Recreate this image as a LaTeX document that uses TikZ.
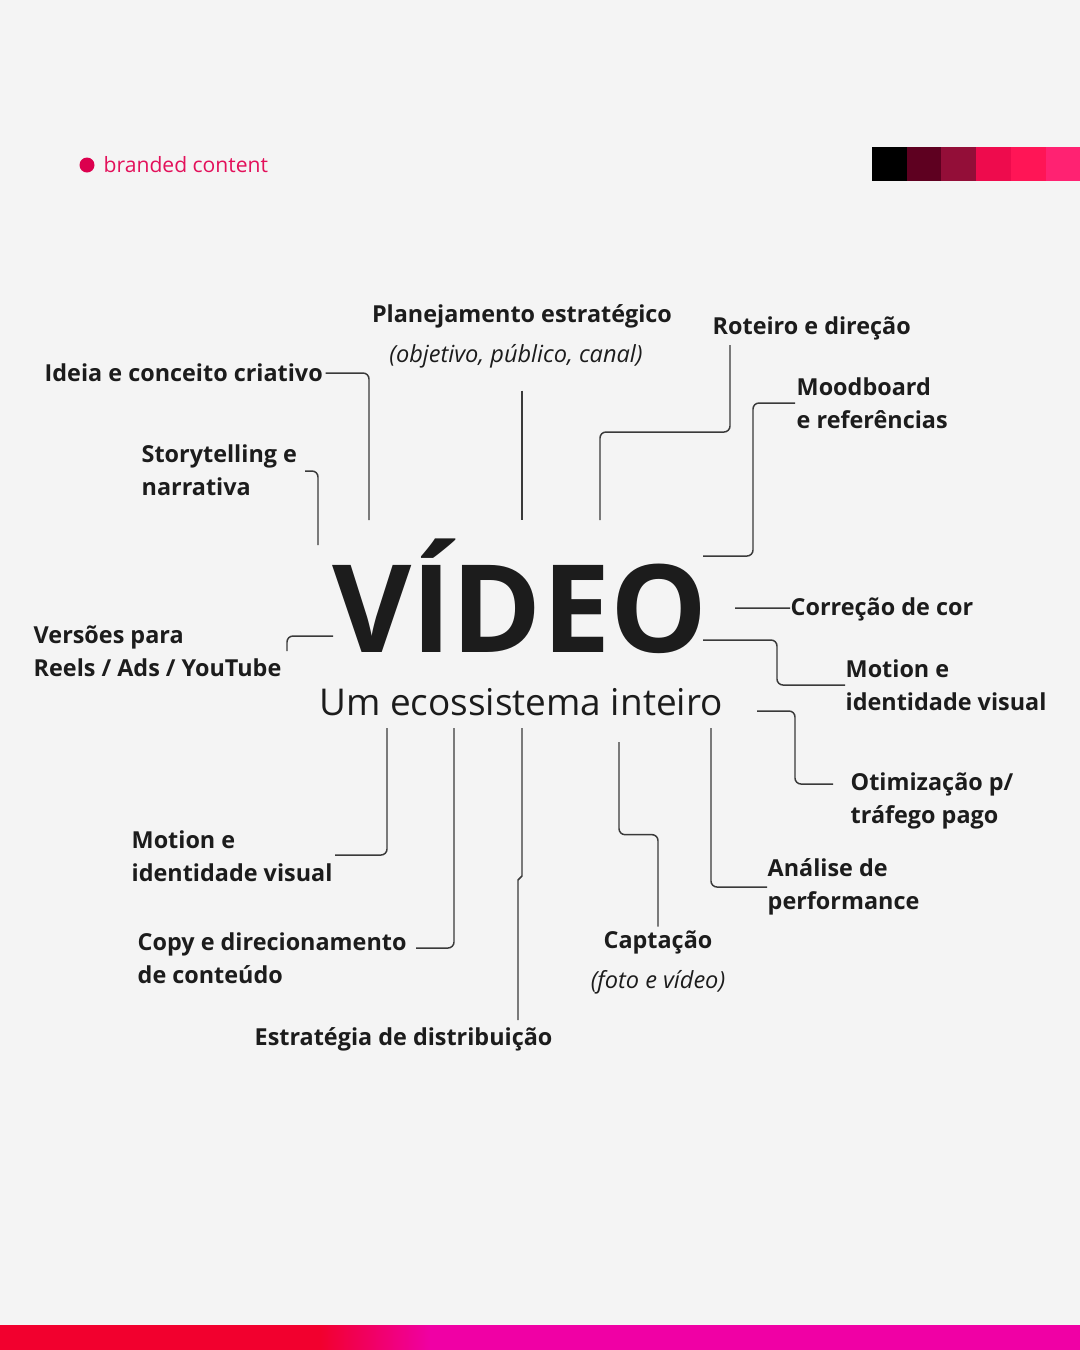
\documentclass[tikz,border=0pt]{standalone}
\usepackage{fontspec}
\setmainfont{Open Sans}
\usetikzlibrary{positioning}

\definecolor{bg}{HTML}{F4F4F4}
\definecolor{ink}{HTML}{1C1C1C}
\definecolor{wirecol}{HTML}{3A3A3A}
\definecolor{brand}{HTML}{E3105A}
\definecolor{branddot}{HTML}{DC004E}
\definecolor{barRed}{HTML}{F2002E}
\definecolor{barPink}{HTML}{F000A5}
\definecolor{pal0}{HTML}{000000}
\definecolor{pal1}{HTML}{5E0020}
\definecolor{pal2}{HTML}{930E38}
\definecolor{pal3}{HTML}{EE0B4D}
\definecolor{pal4}{HTML}{FF1556}
\definecolor{pal5}{HTML}{FF2272}

\tikzset{
  lbl/.style={inner sep=0pt, anchor=west, align=left, text=ink,
    font=\fontsize{6.65}{9.5}\selectfont\bfseries},
  note/.style={inner sep=0pt, text=ink, font=\fontsize{6.7}{9.5}\selectfont\itshape},
  wire/.style={draw=wirecol, line width=0.42pt, rounded corners=1.7pt},
}

\begin{document}
\begin{tikzpicture}[x=0.01cm, y=-0.01cm, node distance=4mm, on grid]
	\useasboundingbox (0,0) rectangle (1080,1350);
	\fill[bg] (0,0) rectangle (1080,1350);

	% header
	\fill[branddot] (87,165) circle (7.5);
	\node[inner sep=0pt, anchor=west, text=brand, font=\fontsize{6}{7}\selectfont] (branded) at (103,165) {branded content};
	\foreach \c [count=\i from 0] in {pal0,pal1,pal2,pal3,pal4,pal5}
		\fill[\c] (872+\i*34.7,147) rectangle ++(34.8,34);

	% centre
	\node[inner sep=0pt, anchor=base, text=ink, font=\fontsize{34.7}{40}\selectfont\bfseries] (video) at (520,652) {VÍDEO};
	\node[inner sep=0pt, anchor=base, text=ink, font=\fontsize{10.5}{13}\selectfont] (tagline) at (521,715) {Um ecossistema inteiro};

	% labels
	\node[lbl, anchor=center] (plan) at (522,316) {Planejamento estratégico};
	\node[note, below=of plan, xshift=-0.6mm] (planSub) {(objetivo, público, canal)};
	\node[lbl] (ideia) at (44,373) {Ideia e conceito criativo};
	\node[lbl] (story) at (141,470) {Storytelling e\\narrativa};
	\node[lbl] (roteiro) at (712,328) {Roteiro e direção};
	\node[lbl] (mood) at (796,403) {Moodboard\\e referências};
	\node[lbl] (cor) at (790,609) {Correção de cor};
	\node[lbl] (motionR) at (845,685) {Motion e\\identidade visual};
	\node[lbl] (otim) at (850,801) {Otimização p/\\tráfego pago};
	\node[lbl] (analise) at (767,887) {Análise de\\performance};
	\node[lbl, anchor=center] (capt) at (658,942) {Captação};
	\node[note, below=of capt] (captSub) {(foto e vídeo)};
	\node[lbl] (distrib) at (254,1039) {Estratégia de distribuição};
	\node[lbl] (copy) at (137,958) {Copy e direcionamento\\de conteúdo};
	\node[lbl] (motionL) at (131,856) {Motion e\\identidade visual};
	\node[lbl] (versoes) at (33,651) {Versões para\\Reels / Ads / YouTube};

	% free ends near the title
	\coordinate (planEnd) at (522,520);
	\coordinate (ideiaEnd) at (369,520);
	\coordinate (storyEnd) at (318,545);
	\coordinate (rotEnd) at (600,520);
	\coordinate (moodEnd) at (703,556);
	\coordinate (corEnd) at (735,608);
	\coordinate (mrEnd) at (703,640);
	\coordinate (otEnd) at (757,711);
	\coordinate (anEnd) at (711,728);
	\coordinate (capEnd) at (619,742);
	\coordinate (diEnd) at (522,728);
	\coordinate (cpEnd) at (454,728);
	\coordinate (mlEnd) at (387,728);

	% connectors
	\draw[wire] ([yshift=-2.2mm]planSub.south -| plan.south) -- (planEnd);
	\draw[wire] ([xshift=0.2mm]ideia.east) -| (ideiaEnd);
	\draw[wire] ([shift={(164,1)}]story.west) -| (storyEnd);
	\draw[wire] ([shift={(18,17)}]roteiro.west) -- ++(0,87) -| (rotEnd);
	\draw[wire] ([xshift=-0.1mm]mood.west) -- ++(-42,0) |- (moodEnd);
	\draw[wire] ([yshift=0.1mm]cor.west) -- (corEnd);
	\draw[wire] (motionR.west) -| ++(-68,-45) -- (mrEnd);
	\draw[wire] ([shift={(-17,-17)}]otim.west) -| ++(-38,-73) -- (otEnd);
	\draw[wire] (analise.west) -| (anEnd);
	\draw[wire] ([yshift=0.3mm]capt.north) -- ++(0,-92) -| (capEnd);
	\draw[wire, sharp corners] ([shift={(264,-19)}]distrib.west) -- ++(0,-140) -- ++(4,-4) -- (diEnd);
	\draw[wire] ([shift={(279,-10)}]copy.west) -| (cpEnd);
	\draw[wire] ([shift={(204,-1)}]motionL.west) -| (mlEnd);
	\draw[wire] ([shift={(300,-15)}]versoes.west) -| ++(-46,15);

	% bottom bar
	\fill[barRed] (0,1325) rectangle (322,1350);
	\shade[left color=barRed, right color=barPink] (320,1325) rectangle (432,1350);
	\fill[barPink] (430,1325) rectangle (1080,1350);
\end{tikzpicture}
\end{document}
